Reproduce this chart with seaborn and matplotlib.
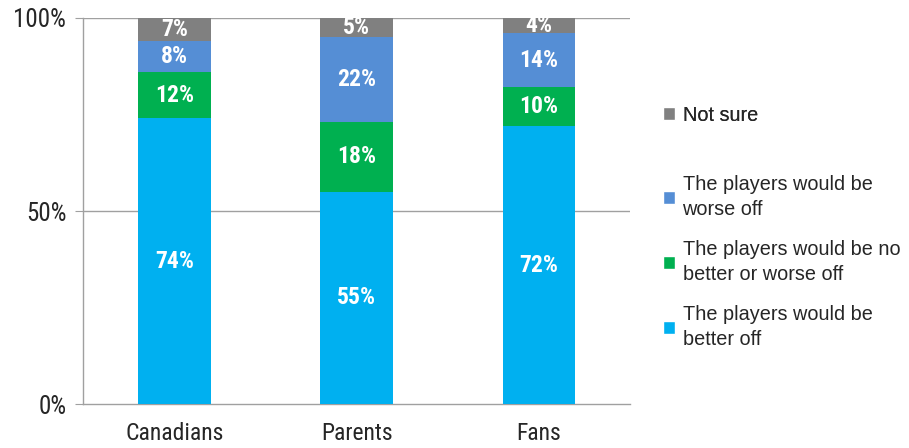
import matplotlib
matplotlib.use("Agg")
import matplotlib.pyplot as plt
import seaborn as sns
import numpy as np
import pandas as pd
from matplotlib.patches import Patch

categories = ["Canadians", "Parents", "Fans"]
better_off = [74, 55, 72]
no_better = [12, 18, 10]
worse_off = [8, 22, 14]
not_sure = [7, 5, 4]

series_names = ["The players would be\nbetter off",
                "The players would be no\nbetter or worse off",
                "The players would be\nworse off",
                "Not sure"]
colors = ["#00B0F0", "#00B050", "#558ED5", "#808080"]

sns.set_style("white")
plt.rcParams['font.family'] = ['Roboto Condensed', 'DejaVu Sans']

fig = plt.figure(figsize=(9.09, 4.48), dpi=100)
ax = fig.add_axes([0.0913, 0.098, 0.602, 0.862])

series = [better_off, no_better, worse_off, not_sure]
bottom = np.zeros(len(categories))
for vals, name, col in zip(series, series_names, colors):
    df = pd.DataFrame({"cat": categories, "val": vals})
    sns.barplot(data=df, x="cat", y="val", color=col, width=0.4,
                bottom=bottom, ax=ax, saturation=1, errorbar=None, zorder=3,
                linewidth=0)
    cont = ax.containers[-1]
    ax.bar_label(cont, labels=[f"{v}%" for v in vals], label_type="center",
                 color="white", fontsize=17, fontweight="bold")
    bottom = bottom + np.array(vals)

ax.set_ylim(0, 100)
ax.set_xlim(-0.5, 2.5)
ax.set_yticks([0, 50, 100])
ax.set_yticklabels(["0%", "50%", "100%"], fontsize=18)
ax.set_xlabel("")
ax.set_ylabel("")
ax.set_xticks([0, 1, 2])
ax.set_xticklabels(categories, fontsize=17)
ax.tick_params(axis="x", length=0, pad=13)
ax.set_xticks([-0.5, 0.5, 1.5, 2.5], minor=True)
ax.tick_params(axis="x", which="minor", length=6, color="#A0A0A0", direction="out")
ax.tick_params(axis="y", length=6, color="#A0A0A0", direction="out", left=True, pad=6)
for y in [50, 100]:
    ax.axhline(y, color="#A0A0A0", lw=1, zorder=1)
for s in ["top", "right"]:
    ax.spines[s].set_visible(False)
for s in ["left", "bottom"]:
    ax.spines[s].set_color("#A0A0A0")
    ax.spines[s].set_linewidth(1)

leg_font = {"family": ["Liberation Sans", "DejaVu Sans"], "size": 14.3}
h1 = [Patch(facecolor=colors[3], label=series_names[3])]
leg1 = fig.legend(handles=h1, loc="center left", bbox_to_anchor=(0.729, 1 - 115/448),
                  frameon=False, prop=leg_font, handlelength=0.6, handleheight=0.6,
                  handletextpad=0.4, borderpad=0, borderaxespad=0)
h2 = [Patch(facecolor=colors[i], label=series_names[i]) for i in [2, 1, 0]]
leg2 = fig.legend(handles=h2, loc="center left", bbox_to_anchor=(0.729, 1 - 262/448),
                  frameon=False, prop=leg_font, handlelength=0.6, handleheight=0.6,
                  handletextpad=0.4, borderpad=0, borderaxespad=0, labelspacing=1.05)
for t in leg2.get_texts():
    t.set_linespacing(1.4)
fig.add_artist(leg1)

fig.savefig("out.png", dpi=100)
